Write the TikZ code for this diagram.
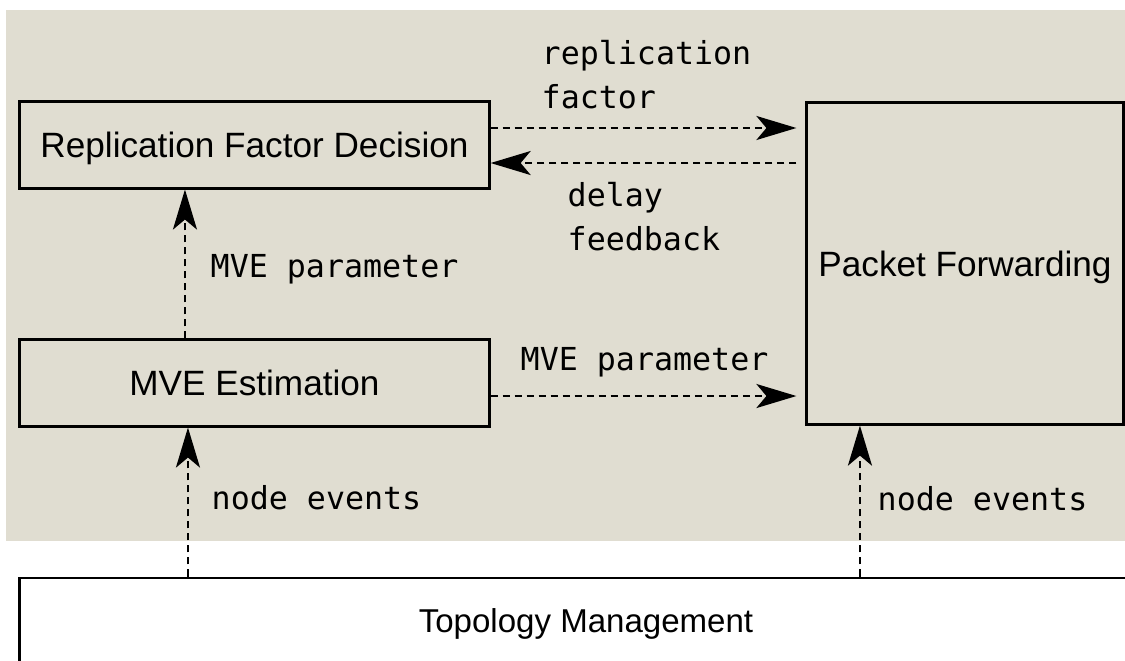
\documentclass[tikz,border=0pt]{standalone}
\usepackage{fontspec}
\setsansfont{Liberation Sans}
\setmonofont{DejaVu Sans Mono}
\usepackage{tikz}
\usetikzlibrary{arrows.meta,positioning}
\definecolor{panel}{RGB}{224,221,209}

\begin{document}
\begin{tikzpicture}[
    x=0.01cm, y=-0.01cm,
    blk/.style={rectangle, draw=black, line width=0.85pt, fill=panel, font=\sffamily\fontsize{10}{12}\selectfont, text height=7.2pt, text depth=0pt, minimum width=4.69cm, minimum height=0.86cm, inner sep=0pt},
    lbl/.style={anchor=base west, inner sep=0pt, align=left, font=\ttfamily\fontsize{9}{12.4}\selectfont},
    arr/.style={-{Stealth[length=0.4cm, width=0.24cm, inset=0.1cm]}, line width=0.7pt, dash pattern=on 0.07cm off 0.05cm}
]
    \useasboundingbox (0,0) rectangle (1125,660);
    \clip (0,0) rectangle (1125,660);

    % Shaded panel
    \fill[panel] (6,10) rectangle (1130,541);

    % Boxes
    \node[blk] (rfd) at (254.5,145) {Replication Factor Decision};
    \node[blk] (mve) at (254.5,383) {MVE Estimation};
    \node[blk, minimum width=3.16cm, minimum height=3.21cm] (pf) at (965,263.5) {Packet Forwarding};
    \node[blk, fill=white, minimum width=11.32cm, font=\sffamily\fontsize{9.4}{12}\selectfont, text height=6.7pt] (topo) at (586,621) {Topology Management};

    % Decision <-> forwarding
    \draw[arr, shorten >=0.09cm] ([yshift=0.17cm]rfd.east) -- ([yshift=0.17cm]rfd.east -| pf.west);
    \draw[arr, shorten <=0.09cm] ([yshift=-0.18cm]rfd.east -| pf.west) -- ([yshift=-0.18cm]rfd.east);
    \node[lbl] (rfl) at (541,108) {replication\\factor};
    \node[lbl] (dfb) at (567,250) {delay\\feedback};

    % Estimation outputs
    \draw[arr] ([xshift=-0.695cm]mve.north) -- ([xshift=-0.695cm]rfd.south);
    \node[lbl] (mpv) at (210,277) {MVE parameter};
    \draw[arr, shorten >=0.09cm] ([yshift=-0.13cm]mve.east) -- ([yshift=-0.13cm]mve.east -| pf.west);
    \node[lbl] (mph) at (520,370) {MVE parameter};

    % Topology events
    \draw[arr] ([xshift=-0.665cm]mve.south |- topo.north) -- ([xshift=-0.665cm]mve.south);
    \draw[arr] ([xshift=-1.05cm]pf.south |- topo.north) -- ([xshift=-1.05cm]pf.south);
    \node[lbl] (nel) at (211,509) {node events};
    \node[lbl] (ner) at (877,510) {node events};

\end{tikzpicture}
\end{document}
